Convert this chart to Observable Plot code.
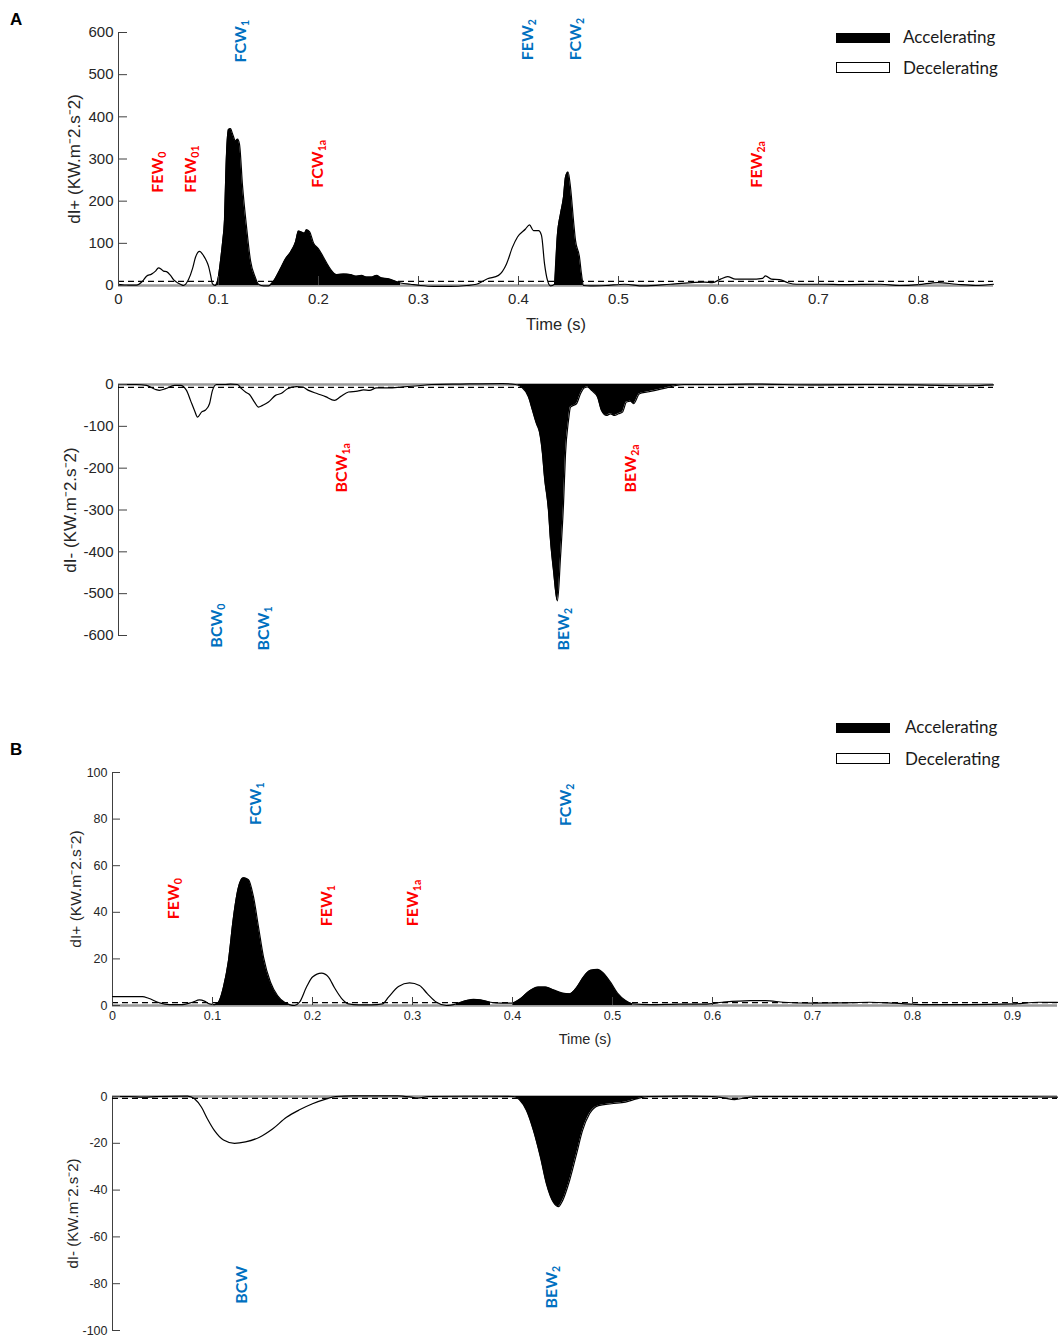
<!DOCTYPE html>
<html><head><meta charset="utf-8">
<script src="https://cdn.jsdelivr.net/npm/d3@7"></script>
<script src="https://cdn.jsdelivr.net/npm/@observablehq/plot@0.6"></script>
<style>
body{margin:0;background:#fff;}
#wrap{position:relative;width:1062px;height:1339px;overflow:hidden;background:#fff;}
.panel{position:absolute;left:0;}
.panel svg{overflow:visible;}
.letter{position:absolute;font:bold 17px "Liberation Sans",Arial,sans-serif;color:#000;line-height:20px;}
.leg{position:absolute;font:17px Lato,"Open Sans",sans-serif;color:#1a1a1a;line-height:20px;white-space:nowrap;}
.sw{position:absolute;width:54px;height:10px;box-sizing:border-box;}
</style></head><body>
<div id="wrap">
  <div class="letter" style="left:10px;top:10px">A</div>
  <div class="letter" style="left:10px;top:740px">B</div>
  <div class="sw" style="left:836px;top:33px;background:#000"></div>
  <div class="leg" style="left:903px;top:27px">Accelerating</div>
  <div class="sw" style="left:836px;top:62px;height:11px;background:#fff;border:1.5px solid #000"></div>
  <div class="leg" style="left:903px;top:58px">Decelerating</div>
  <div class="sw" style="left:836px;top:723px;background:#000"></div>
  <div class="leg" style="left:905px;top:717px">Accelerating</div>
  <div class="sw" style="left:836px;top:753px;height:11px;background:#fff;border:1.5px solid #000"></div>
  <div class="leg" style="left:905px;top:749px">Decelerating</div>
</div>
<script>
// ---------- Panel A, dI+ ----------
const tA_pos = [0,0.010,0.018,0.024,0.028,0.033,0.037,0.040,0.043,0.045,0.048,0.052,0.055,0.058,0.062,0.065,0.070,0.074,0.077,0.081,0.085,0.088,0.090,0.092,0.094,0.097,0.100,0.102,0.104,0.106,0.108,0.110,0.112,0.114,0.117,0.119,0.121,0.124,0.128,0.132,0.137,0.140,0.145,0.150,0.152,0.155,0.158,0.162,0.167,0.172,0.177,0.180,0.183,0.186,0.188,0.191,0.195,0.200,0.205,0.210,0.215,0.218,0.225,0.232,0.237,0.243,0.248,0.253,0.258,0.263,0.270,0.277,0.282,0.292,0.302,0.315,0.332,0.348,0.358,0.369,0.380,0.388,0.394,0.399,0.407,0.411,0.415,0.420,0.423,0.426,0.429,0.432,0.436,0.439,0.442,0.445,0.447,0.4496,0.452,0.455,0.457,0.461,0.463,0.465,0.472,0.487,0.506,0.525,0.552,0.586,0.594,0.602,0.609,0.617,0.632,0.644,0.647,0.653,0.661,0.670,0.678,0.705,0.724,0.762,0.781,0.800,0.819,0.838,0.857,0.875];
const dIpA = [3,1,1,10,22,27,34,42,38,34,33,24,14,8,3,0,14,40,67,81,71,58,46,26,4,0,22,58,100,156,311,370,372,360,343,347,335,237,140,59,18,3,-1,-1,2,10,22,40,63,79,103,129,127,124,132,128,101,87,67,46,30,26,27,26,22,24,20,20,24,18,16,10,6,3,0,-2,-2,0,3,16,24,51,91,115,134,144,130,130,119,52,12,-1,3,123,170,210,257,269,233,154,107,67,27,0,-1,0,3,-1,3,8,7,15,21,15,15,17,23,15,14,6,3,3,2,3,0,2,7,3,0,3];
const accelA_pos = [[0.097,0.140],[0.152,0.282],[0.436,0.465]];
const thrA_pos = 10;

// ---------- Panel A, dI- ----------
const tA_neg = [0,0.018,0.028,0.037,0.041,0.047,0.056,0.062,0.068,0.072,0.076,0.079,0.083,0.087,0.091,0.094,0.098,0.106,0.112,0.119,0.123,0.127,0.131,0.136,0.140,0.144,0.150,0.157,0.163,0.169,0.178,0.184,0.190,0.199,0.207,0.216,0.222,0.230,0.239,0.245,0.251,0.258,0.270,0.283,0.300,0.313,0.342,0.384,0.397,0.403,0.410,0.414,0.418,0.421,0.424,0.426,0.430,0.432,0.435,0.439,0.442,0.445,0.447,0.450,0.452,0.458,0.462,0.466,0.469,0.473,0.479,0.483,0.488,0.492,0.496,0.500,0.504,0.508,0.512,0.515,0.521,0.529,0.537,0.548,0.556,0.565,0.600,0.630,0.700,0.750,0.800,0.850,0.875];
const dImA = [0,0,-2,-12,-14,-10,-2,-2,-14,-38,-62,-78,-66,-61,-46,-14,0,0,1,0,-10,-18,-24,-42,-54,-50,-42,-26,-21,-10,-5,-6,-14,-22,-29,-38,-29,-18,-16,-13,-14,-8,-8,-6,-3,0,1,2,0,-6,-30,-62,-94,-114,-166,-222,-302,-373,-445,-517,-413,-286,-166,-86,-54,-46,-22,-8,-6,-14,-30,-62,-74,-70,-74,-70,-66,-42,-40,-46,-22,-18,-14,-8,-3,0,0,1,-1,0,-1,-3,-1];
const accelA_neg = [[0.397,0.565]];
const thrA_neg = -7;

// ---------- Panel B, dI+ ----------
const tB_pos = [0,0.030,0.036,0.047,0.057,0.070,0.080,0.087,0.092,0.097,0.102,0.106,0.111,0.116,0.121,0.126,0.131,0.136,0.141,0.146,0.151,0.158,0.165,0.172,0.177,0.182,0.187,0.194,0.200,0.209,0.216,0.222,0.229,0.236,0.246,0.259,0.270,0.276,0.286,0.297,0.307,0.315,0.324,0.334,0.344,0.354,0.361,0.368,0.378,0.388,0.400,0.408,0.417,0.426,0.433,0.441,0.450,0.457,0.464,0.471,0.478,0.485,0.491,0.498,0.505,0.513,0.520,0.538,0.567,0.592,0.610,0.638,0.653,0.671,0.700,0.728,0.757,0.782,0.811,0.854,0.901,0.926,0.945];
const dIpB = [3.8,3.8,3.1,1.1,0.4,0.4,1.4,2.4,1.9,0.7,0.4,1.4,7.9,19.3,37.9,50.8,54.8,54,46.6,33.7,20.8,10,4.3,1.4,0.4,0,1.4,7.9,12.2,13.9,12.2,7.6,3.1,0.7,0.3,0.3,0.7,3.6,8.2,9.7,8.6,5,1.4,0,0.7,2.1,2.6,2.4,1.4,1,1,2.9,6.2,7.9,7.9,6.7,5.3,5,7.6,12.2,15.1,15.5,13.9,10,5.3,2.1,0.7,0.4,0.6,0.6,1.4,2.1,2.1,1.4,1,1.1,1.4,1,0.4,0.4,0.7,1.4,1.3];
const accelB_pos = [[0.102,0.177],[0.344,0.378],[0.400,0.520]];
const thrB_pos = 1.2;

// ---------- Panel B, dI- ----------
const tB_neg = [0,0.017,0.031,0.044,0.075,0.082,0.089,0.095,0.102,0.111,0.122,0.133,0.147,0.160,0.174,0.187,0.200,0.214,0.223,0.240,0.285,0.299,0.305,0.316,0.352,0.374,0.401,0.407,0.414,0.421,0.428,0.434,0.441,0.446,0.450,0.457,0.464,0.470,0.477,0.486,0.499,0.513,0.524,0.535,0.575,0.600,0.611,0.622,0.634,0.645,0.700,0.800,0.900,0.945];
const dImB = [0,0,-0.3,0,0.2,-1,-4.6,-9.6,-14.6,-18.6,-20,-19.4,-17.4,-13.9,-8.9,-5.7,-3.1,-1,0,0.3,0.3,-0.3,-0.7,0,0.1,0.1,0,-1.4,-6,-14.6,-26,-37.4,-45.3,-47.1,-44.6,-36,-24.6,-14.6,-7.4,-3.9,-3.1,-2.4,-1,0,0.2,0,-0.6,-1.3,-0.5,0,0,0,0,-0.3];
const accelB_neg = [[0.401,0.535]];
const thrB_neg = -0.8;

// ---------- ticks ----------
const xTicksA = [0,0.1,0.2,0.3,0.4,0.5,0.6,0.7,0.8];
const xTicksB = [0,0.1,0.2,0.3,0.4,0.5,0.6,0.7,0.8,0.9];
const yTicksA_pos = [0,100,200,300,400,500,600];
const yTicksA_neg = [0,-100,-200,-300,-400,-500,-600];
const yTicksB_pos = [0,20,40,60,80,100];
const yTicksB_neg = [0,-20,-40,-60,-80,-100];

// ---------- annotations ----------
const RED = "#FF0000", BLUE = "#0070C0";
const annA_pos_name = ["FEW","FEW","FCW","FCW","FEW","FCW","FEW"];
const annA_pos_sub = ["0","01","1","1a","2","2","2a"];
const annA_pos_t = [0.039,0.072,0.122,0.199,0.409,0.457,0.638];
const annA_pos_v = [220,220,529,232,534,534,232];
const annA_pos_col = [RED,RED,BLUE,RED,BLUE,BLUE,RED];

const annA_neg_name = ["BCW","BCW","BCW","BEW","BEW"];
const annA_neg_sub = ["0","1","1a","2","2a"];
const annA_neg_t = [0.098,0.145,0.223,0.445,0.512];
const annA_neg_v = [-629,-636,-258,-636,-258];
const annA_neg_col = [BLUE,BLUE,RED,BLUE,RED];

const annB_pos_name = ["FEW","FCW","FEW","FEW","FCW"];
const annB_pos_sub = ["0","1","1","1a","2"];
const annB_pos_t = [0.061,0.143,0.214,0.300,0.453];
const annB_pos_v = [37,77.5,34,34,77];
const annB_pos_col = [RED,BLUE,RED,RED,BLUE];

const annB_neg_name = ["BCW","BEW"];
const annB_neg_sub = ["","2"];
const annB_neg_t = [0.129,0.439];
const annB_neg_v = [-88.6,-90.6];
const annB_neg_col = [BLUE,BLUE];

// ---------- helpers ----------
function series(ts, vs, intervals) {
  return ts.map((t, i) => ({t, v: vs[i], seg: intervals.findIndex(([a, b]) => t >= a - 1e-9 && t <= b + 1e-9)}));
}
function annots(names, ts, vs, cols) {
  return names.map((n, i) => ({name: n, t: ts[i], v: vs[i], color: cols[i]}));
}

function panel(o) {
  const data = series(o.t, o.v, o.accel);
  const marks = [
    Plot.ruleY([0], {stroke: "#9a9a9a", strokeWidth: 2.5}),
    Plot.ruleX([0], {stroke: "#404040", strokeWidth: 1}),
    Plot.areaY(data, {filter: d => d.seg >= 0, x: "t", y: "v", z: "seg", fill: "black", curve: "monotone-x"}),
    Plot.lineY(data, {x: "t", y: "v", stroke: "black", strokeWidth: 1.2, curve: "monotone-x"}),
    Plot.ruleY([o.thr], {stroke: "black", strokeWidth: 1.3, strokeDasharray: "6,4"}),
    Plot.axisY({ticks: o.yTicks, tickSize: -o.tickLen, tickPadding: o.tickLen + 5, tickFormat: d => String(d),
      fontSize: o.fontSize, label: o.yLabel, labelAnchor: "center", labelOffset: o.labelOffset, labelArrow: "none", stroke: "#404040", fill: "#262626"}),
    Plot.text(annots(o.annName, o.annT, o.annV, o.annCol), {x: "t", y: "v", text: "name", fill: "color", rotate: -90,
      textAnchor: "start", lineAnchor: "middle", fontFamily: "Lato, 'Open Sans', sans-serif", fontWeight: "bold", fontSize: 16})
  ];
  if (o.xTicks) {
    marks.push(Plot.axisX({ticks: o.xTicks, tickSize: -o.tickLen, tickPadding: o.xPad, tickFormat: d => String(d),
      fontSize: o.fontSize, label: "Time (s)", labelAnchor: "center", labelOffset: o.xLabelOffset, labelArrow: "none", stroke: "#404040", fill: "#262626"}));
  }
  const svg = Plot.plot({
    width: 1062, height: o.height,
    marginLeft: o.ml, marginRight: o.mr, marginTop: o.mt, marginBottom: o.mb,
    x: {domain: o.xDomain, axis: null},
    y: {domain: o.yDomain, axis: null},
    style: {fontFamily: '"Liberation Sans", Arial, sans-serif', color: "#262626", background: "transparent", overflow: "visible"},
    marks
  });
  const sel = d3.select(svg);
  sel.selectAll('g[aria-label="text"] text').each(function (_, i) {
    const s = o.annSub[i];
    if (s) d3.select(this).append("tspan").attr("font-size", "0.66em").attr("dy", "0.28em").text(s);
  });
  sel.selectAll('g[aria-label="y-axis label"]').attr("font-size", o.yLabelSize);
  sel.selectAll('g[aria-label="y-axis label"] text').attr("font-size", o.yLabelSize);
  sel.selectAll('g[aria-label="x-axis label"]').attr("font-size", o.xLabelSize);
  sel.selectAll('g[aria-label="x-axis label"] text').attr("font-size", o.xLabelSize);
  const div = document.createElement("div");
  div.className = "panel";
  div.style.top = o.top + "px";
  div.appendChild(svg);
  document.getElementById("wrap").appendChild(div);
}

const labPos = "dI+ (KW.m\u207B2.s\u207B2)";
const labNeg = "dI- (KW.m\u207B2.s\u207B2)";

panel({top: 0, height: 340, ml: 118, mr: 69, mt: 32, mb: 55, xDomain: [0, 0.875], yDomain: [0, 600],
  t: tA_pos, v: dIpA, accel: accelA_pos, thr: thrA_pos, yTicks: yTicksA_pos, xTicks: xTicksA,
  tickLen: 9, xPad: 17, fontSize: 15, yLabel: labPos, labelOffset: 51, xLabelOffset: 44, yLabelSize: 17, xLabelSize: 16.5,
  annName: annA_pos_name, annSub: annA_pos_sub, annT: annA_pos_t, annV: annA_pos_v, annCol: annA_pos_col});

panel({top: 340, height: 330, ml: 118, mr: 69, mt: 44, mb: 35, xDomain: [0, 0.875], yDomain: [-600, 0],
  t: tA_neg, v: dImA, accel: accelA_neg, thr: thrA_neg, yTicks: yTicksA_neg, xTicks: null,
  tickLen: 9, fontSize: 15, yLabel: labNeg, labelOffset: 55, yLabelSize: 17,
  annName: annA_neg_name, annSub: annA_neg_sub, annT: annA_neg_t, annV: annA_neg_v, annCol: annA_neg_col});

panel({top: 700, height: 360, ml: 112, mr: 5, mt: 72, mb: 55, xDomain: [0, 0.945], yDomain: [0, 100],
  t: tB_pos, v: dIpB, accel: accelB_pos, thr: thrB_pos, yTicks: yTicksB_pos, xTicks: xTicksB,
  tickLen: 8, xPad: 14, fontSize: 12.5, yLabel: labPos, labelOffset: 43, xLabelOffset: 38, yLabelSize: 15.5, xLabelSize: 14.5,
  annName: annB_pos_name, annSub: annB_pos_sub, annT: annB_pos_t, annV: annB_pos_v, annCol: annB_pos_col});

panel({top: 1060, height: 279, ml: 112, mr: 5, mt: 36, mb: 9, xDomain: [0, 0.945], yDomain: [-100, 0],
  t: tB_neg, v: dImB, accel: accelB_neg, thr: thrB_neg, yTicks: yTicksB_neg, xTicks: null,
  tickLen: 8, fontSize: 12.5, yLabel: labNeg, labelOffset: 45, yLabelSize: 15,
  annName: annB_neg_name, annSub: annB_neg_sub, annT: annB_neg_t, annV: annB_neg_v, annCol: annB_neg_col});
</script>
</body></html>
